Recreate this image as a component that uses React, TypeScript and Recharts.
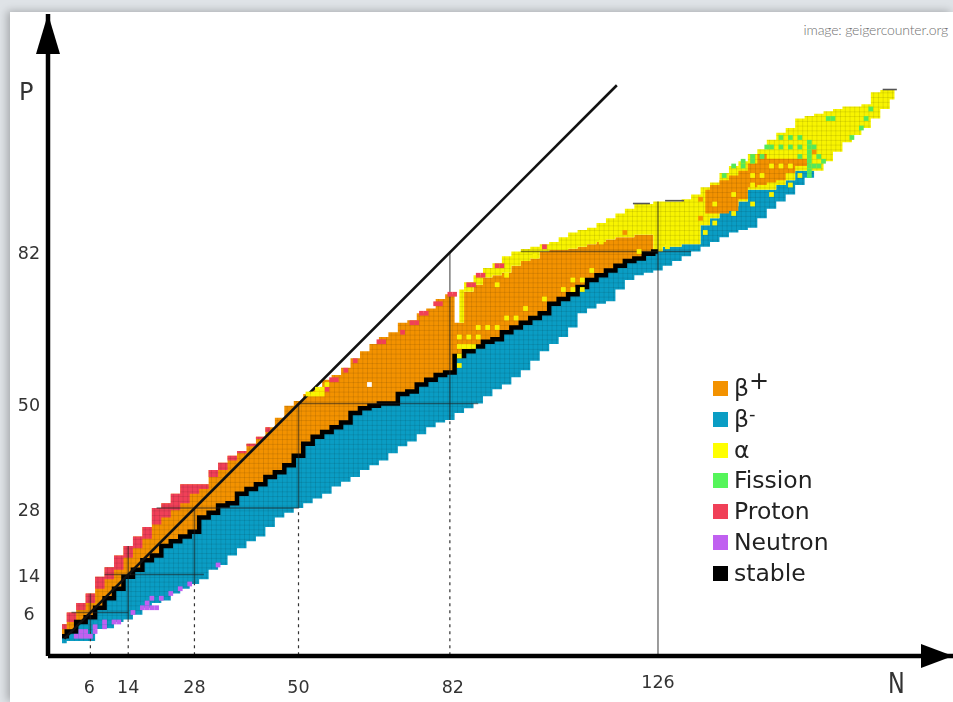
import {
  Area,
  ComposedChart,
  Line,
  ReferenceLine,
  Scatter,
  XAxis,
  YAxis,
} from "recharts";

// every second neutron column
const neutrons = [
  0, 2, 4, 6, 8, 10, 12, 14, 16, 18,
  20, 22, 24, 26, 28, 30, 32, 34, 36, 38,
  40, 42, 44, 46, 48, 50, 52, 54, 56, 58,
  60, 62, 64, 66, 68, 70, 72, 74, 76, 78,
  80, 82, 84, 86, 88, 90, 92, 94, 96, 98,
  100, 102, 104, 106, 108, 110, 112, 114, 116, 118,
  120, 122, 124, 126, 128, 130, 132, 134, 136, 138,
  140, 142, 144, 146, 148, 150, 152, 154, 156, 158,
  160, 162, 164, 166, 168, 170, 172, 174, 176,
];
const bottomEdge = [
  -0.5, 0, 0, 0, 2.5, 2.7, 4, 4.5, 5.5, 7,
  8, 8.5, 10, 11, 12, 13, 15, 16, 18, 19.5,
  21, 22, 24, 26, 27, 28, 29, 30, 31, 32.5,
  33.5, 34.5, 36, 37, 38, 39.5, 41, 42, 43.5, 45,
  46, 46.5, 48, 49, 50, 51.5, 53, 54, 55.5, 57,
  59, 61, 62.5, 64, 66, 69, 70, 71, 71.5, 74,
  76, 77, 77.5, 78, 79, 80, 81, 82, 83, 84,
  85, 86, 86.5, 87, 89, 91, 92.5, 94, 96, 97.5,
  99, 101, 103, 105, 106.5, 108, 110, 112, 114,
];
const topEdge = [
  3.5, 6, 8, 10, 13.5, 15.5, 18, 20, 22, 24,
  28, 29, 31, 33, 33, 33, 36, 37.5, 39, 40,
  41.5, 43, 45, 47, 49.5, 50.5, 52, 53, 55, 56,
  57.5, 59.5, 61, 62.5, 64, 65, 67, 67.5, 69, 70,
  72, 73, 74, 75.5, 77, 78.5, 79.5, 81, 82, 82.5,
  83, 83.5, 84, 85, 86, 86.5, 87, 88, 89, 90,
  91, 92, 92, 92.5, 92.5, 92.5, 93, 94, 95.5, 96.5,
  98.5, 100, 101, 102.5, 103.5, 105.5, 107, 108, 110, 110.5,
  111, 111.5, 112, 112.5, 112.5, 113, 115.5, 116, 116,
];
// N = 0..126
const stableLine = [
  1, 2, 4, 5, 7, 9, 11, 13.5, 15, 17,
  18, 20, 21, 22, 23, 26, 27, 28.5, 29, 31,
  32, 33, 34.5, 35.5, 37, 39, 41.5, 43, 44, 45,
  46, 48, 49, 49.5, 50, 50, 52, 52.5, 54, 55,
  56, 56.5, 60, 61, 62, 63, 63.5, 65, 66, 67,
  68, 69, 71, 72, 73, 74.5, 76, 77, 78, 79,
  80, 80.5, 81.5, 82,
];
// N = 84..176, top of beta+ (to 126), top of beta- (to 160), then the lower edge
const alphaFloor = [
  67, 73.5, 75, 76.5, 77, 77.5, 79, 80, 80.5, 82,
  82.3, 82.3, 82.6, 83, 83.5, 84, 84.5, 85, 85, 85.5,
  85.5, 82, 83, 83, 83.5, 83.5, 87.5, 89, 90.5, 91.5,
  92.5, 95, 95, 95, 96, 97, 99, 99, 99, 101,
  103, 105, 106.5, 108, 110, 112, 114,
];
// N = 0..44, inner edge of the proton strip
const protonFloor = [
  2.5, 4, 6.5, 8, 11, 13, 15, 17.5, 19.5, 21.5,
  24.5, 26, 27.5, 29, 31, 32, 34.5, 36, 38, 39.5,
  41, 42.5, 44,
];
// N = 136..158, heavy beta+ patch
const patchLow = [90, 90, 90, 90.5, 93, 95.5, 96, 96.5, 97, 98.5, 100, 100];
const patchHigh = [95, 96, 97, 98, 99, 100.5, 102.5, 101.5, 101.5, 101.5, 101.5, 101.5];

const protonCells = [
  [58, 55], [57, 55], [60, 57], [62, 59], [68, 63], [67, 63], [72, 65], [74, 67],
  [75, 67], [76, 69], [77, 69], [79, 71], [80, 71], [82, 73], [83, 73], [86, 75],
  [87, 75], [88, 77], [89, 77], [92, 79], [93, 79], [102, 83], [56, 53],
];
const alphaCells = [
  [84, 64], [86, 64], [88, 66], [90, 66], [92, 66], [94, 68], [96, 68], [98, 70],
  [102, 72], [106, 74], [88, 64], [84, 62], [85, 62], [86, 62], [87, 62], [84, 60],
  [84, 58], [92, 75], [94, 77], [100, 81], [52, 52], [53, 52], [54, 52], [55, 52],
  [55, 53], [54, 53], [56, 54], [108, 74], [110, 74], [108, 76], [110, 76], [112, 78],
  [114, 84], [122, 82], [138, 92], [142, 94], [146, 98], [150, 100], [152, 100],
  [154, 100], [148, 98], [146, 96], [156, 98], [154, 96], [150, 94], [146, 92],
  [142, 90], [138, 88], [136, 86], [128, 83],
];
const orangeCells = [[135, 93], [135, 89], [119, 86], [159, 103]];
const whiteCells = [[65, 54]];
const fissionCells = [
  [162, 110], [163, 110], [171, 112], [170, 110], [169, 108], [167, 106], [152, 106],
  [154, 106], [156, 106], [149, 104], [150, 104], [152, 104], [154, 104], [156, 104],
  [158, 105], [158, 104], [159, 104], [158, 103], [158, 102], [158, 101], [158, 100],
  [158, 99], [159, 100], [160, 100], [161, 101], [146, 102], [146, 101], [144, 101],
  [144, 100], [142, 100], [140, 98], [148, 102], [156, 102], [158, 98], [160, 102],
];
const neutronCells = [
  [3, 1], [4, 1], [5, 1], [6, 1], [5, 2], [4, 2], [7, 3], [7, 2], [9, 3], [9, 4],
  [11, 4], [12, 4], [15, 6], [17, 7], [18, 7], [19, 7], [20, 7], [18, 8], [19, 9],
  [21, 9], [23, 10], [25, 11], [27, 12], [33, 16],
];

const xMagic = [6, 14, 28, 50, 82, 126];
const xDashEnd = [2, 4, 12, 28, 46.5, -3];
const xSolidEnd = [10, 20, 28, 50, 82, 92.5];
const yMagic = [6, 14, 28, 50, 82];
const yDashEnd = [2, 9, 20, 50, 97];
const ySolidEnd = [14, 30, 50, 88, 133];
// short grey marks that sit on the upper rim
const rimMarks = [[127.5, 131.5, 92.7], [120.7, 124.3, 92.1], [173.5, 176.5, 116.1]];

const legendLabels = ["β", "β", "α", "Fission", "Proton", "Neutron", "stable"];
const legendMarks = ["+", "-", "", "", "", "", ""];
const legendColors = ["#f39200", "#0a9dc4", "#ffff00", "#55f55a", "#f04058", "#c060f0", "#000"];

const rows = neutrons.map((n, i) => ({
  n,
  blue: n <= 126 ? [bottomEdge[i], stableLine[i]] : n <= 160 ? [bottomEdge[i], alphaFloor[i - 42]] : null,
  orange: n <= 126 ? [stableLine[i], n < 84 ? topEdge[i] : alphaFloor[i - 42]] : null,
  alpha: n >= 84 ? [alphaFloor[i - 42], topEdge[i]] : null,
  proton: n <= 44 ? [protonFloor[i], topEdge[i]] : null,
  patch: n >= 136 && n <= 158 ? [patchLow[i - 68], patchHigh[i - 68]] : null,
  stable: n <= 126 ? stableLine[i] : null,
}));

const toCells = (list: number[][]) => list.map(([n, p]) => ({ n, p }));
const cell = (fill: string) => (props: any) => (
  <rect x={props.cx - 2.37} y={props.cy - 2.37} width={4.73} height={4.75} fill={fill} />
);

function CellPattern({ id, color }: { id: string; color: string }) {
  return (
    <pattern id={id} patternUnits="userSpaceOnUse" x={59.63} y={638.62} width={4.73} height={4.75}>
      <rect width={4.73} height={4.75} fill={color} />
      <path d="M0 0H4.73M0 0V4.75" stroke="rgba(0,0,0,0.28)" strokeWidth={0.7} />
    </pattern>
  );
}

const tickStyle = { fontFamily: "'DejaVu Sans'", fontSize: 17.5, fill: "#333" };

function XTick({ x, y, payload }: any) {
  const v = payload.value;
  return (
    <text x={x + (v === 82 ? 3 : v === 6 ? -1 : 0)} y={y + (v === 126 ? 24 : 29)} textAnchor="middle" {...tickStyle}>
      {v}
    </text>
  );
}

function YTick({ y, payload }: any) {
  return (
    <text x={29} y={y + 8} textAnchor="middle" {...tickStyle}>
      {payload.value}
    </text>
  );
}

export default function App() {
  return (
    <div style={{ position: "absolute", left: 0, top: 0, width: 953, height: 702, overflow: "hidden", background: "#dfe3e7" }}>
      <div style={{ position: "absolute", left: 10, top: 12, right: 0, bottom: 0, background: "#fff", boxShadow: "-3px -1px 8px rgba(0,0,0,0.25)" }} />
      <div style={{ position: "absolute", left: 0, top: 0, filter: "blur(0.5px)" }}>
        <ComposedChart width={953} height={702} data={rows} margin={{ top: 14, right: 0, bottom: 0, left: 0 }}>
          <defs>
            <CellPattern id="cellBlue" color="#0a9dc4" />
            <CellPattern id="cellOrange" color="#f39200" />
            <CellPattern id="cellAlpha" color="#f8f400" />
            <CellPattern id="cellProton" color="#f04058" />
            <marker id="arrowX" markerUnits="userSpaceOnUse" markerWidth={32} markerHeight={24} refX={32} refY={12} orient="auto">
              <path d="M0 0L32 12L0 24z" fill="#000" />
            </marker>
            <marker id="arrowY" markerUnits="userSpaceOnUse" markerWidth={40} markerHeight={24} refX={40} refY={12} orient="auto-start-reverse">
              <path d="M0 0L40 12L0 24z" fill="#000" />
            </marker>
          </defs>
          <XAxis
            dataKey="n"
            type="number"
            domain={[-2.96, 188.37]}
            ticks={xMagic}
            interval={0}
            height={46}
            tickLine={false}
            tick={<XTick />}
            axisLine={{ stroke: "#000", strokeWidth: 4.5, markerEnd: "url(#arrowX)" }}
          />
          <YAxis
            type="number"
            domain={[-3.16, 132]}
            ticks={yMagic}
            interval={0}
            width={48}
            tickLine={false}
            tick={<YTick />}
            axisLine={{ stroke: "#000", strokeWidth: 4.5, markerStart: "url(#arrowY)" }}
          />
          <Area dataKey="blue" type="step" stroke="none" fill="url(#cellBlue)" fillOpacity={1} isAnimationActive={false} />
          <Area dataKey="orange" type="step" stroke="none" fill="url(#cellOrange)" fillOpacity={1} isAnimationActive={false} />
          <Area dataKey="alpha" type="step" stroke="none" fill="url(#cellAlpha)" fillOpacity={1} isAnimationActive={false} />
          <Area dataKey="patch" type="step" stroke="none" fill="url(#cellOrange)" fillOpacity={1} isAnimationActive={false} />
          <Area dataKey="proton" type="step" stroke="none" fill="url(#cellProton)" fillOpacity={1} isAnimationActive={false} />
          <Line dataKey="stable" type="step" stroke="#000" strokeWidth={4.5} dot={false} isAnimationActive={false} />
          <Scatter data={toCells(protonCells)} dataKey="p" shape={cell("#f04058")} isAnimationActive={false} />
          <Scatter data={toCells(alphaCells)} dataKey="p" shape={cell("#f8f400")} isAnimationActive={false} />
          <Scatter data={toCells(orangeCells)} dataKey="p" shape={cell("#f39200")} isAnimationActive={false} />
          <Scatter data={toCells(whiteCells)} dataKey="p" shape={cell("#fff")} isAnimationActive={false} />
          <Scatter data={toCells(fissionCells)} dataKey="p" shape={cell("#55e85a")} isAnimationActive={false} />
          <Scatter data={toCells(neutronCells)} dataKey="p" shape={cell("#c060f0")} isAnimationActive={false} />
          {xMagic.map((m, i) => (
            <ReferenceLine key={`xd${m}`} segment={[{ x: m, y: -3 }, { x: m, y: xDashEnd[i] }]} stroke="#333" strokeWidth={1.2} strokeDasharray="3 4" />
          ))}
          {xMagic.map((m, i) => (
            <ReferenceLine key={`xs${m}`} segment={[{ x: m, y: xDashEnd[i] }, { x: m, y: xSolidEnd[i] }]} stroke="rgba(30,30,30,0.55)" strokeWidth={1.6} />
          ))}
          {yMagic.map((m, i) => (
            <ReferenceLine key={`yd${m}`} segment={[{ x: -3, y: m }, { x: yDashEnd[i], y: m }]} stroke="#333" strokeWidth={1.2} strokeDasharray="4 4" />
          ))}
          {yMagic.map((m, i) => (
            <ReferenceLine key={`ys${m}`} segment={[{ x: yDashEnd[i], y: m }, { x: ySolidEnd[i], y: m }]} stroke="rgba(30,30,30,0.55)" strokeWidth={1.6} />
          ))}
          {rimMarks.map(([from, to, p]) => (
            <ReferenceLine key={`rim${from}`} segment={[{ x: from, y: p }, { x: to, y: p }]} stroke="#555" strokeWidth={1.6} />
          ))}
          <ReferenceLine segment={[{ x: 0.5, y: 0.5 }, { x: 117.3, y: 117 }]} stroke="#111" strokeWidth={2.6} />
        </ComposedChart>
        <div style={{ position: "absolute", left: 19, top: 78, font: "24px 'DejaVu Sans'", color: "#333" }}>P</div>
        <div style={{ position: "absolute", left: 886, top: 667, font: "28px 'DejaVu Sans'", color: "#333", transform: "scaleX(0.8)" }}>N</div>
        {legendLabels.map((label, i) => (
          <div key={label + i} style={{ position: "absolute", left: 713, top: 381 + i * 30.8, height: 15, whiteSpace: "nowrap" }}>
            <span style={{ position: "absolute", left: 0, top: 0, width: 15, height: 15, background: legendColors[i] }} />
            <span style={{ position: "absolute", left: 21, top: -6, font: "23.5px 'DejaVu Sans'", lineHeight: "27px", color: "#222" }}>
              {label}
              {legendMarks[i] && (
                <span style={{ position: "relative", top: -7, fontSize: legendMarks[i] === "+" ? 24 : 18 }}>{legendMarks[i]}</span>
              )}
            </span>
          </div>
        ))}
      </div>
      <div style={{ position: "absolute", right: 5, top: 21, font: "300 14px Lato", color: "#707070", letterSpacing: -0.15 }}>image: geigercounter.org</div>
    </div>
  );
}
